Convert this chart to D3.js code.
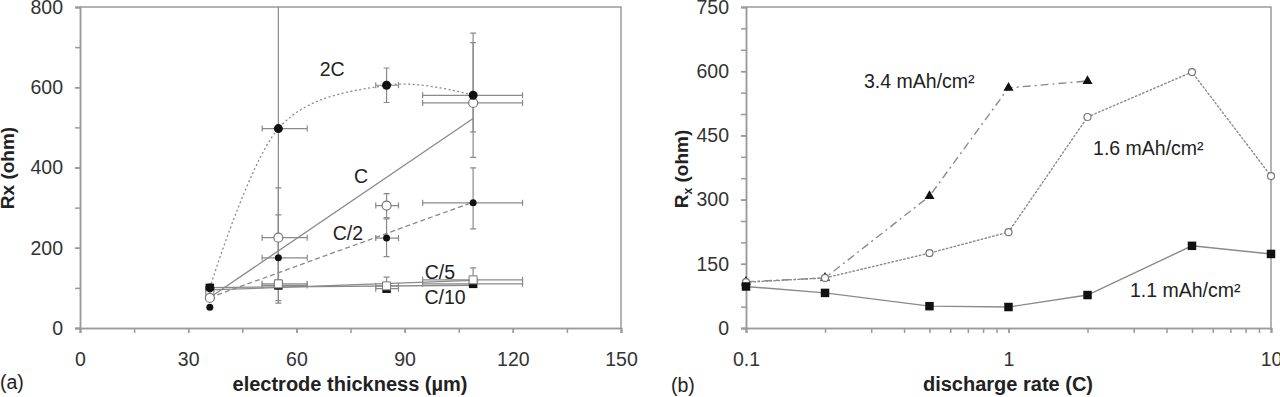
<!DOCTYPE html>
<html>
<head>
<meta charset="utf-8">
<script src="https://cdn.jsdelivr.net/npm/d3@7"></script>
<style>
  body { margin: 0; background: #fff; }
  svg { display: block; font-family: "Liberation Sans", Arial, sans-serif; }
  .tick text { font-size: 19.5px; fill: #333; }
</style>
</head>
<body>
<svg id="chart" width="1280" height="397"></svg>
<script>
// ---- panel (a): Rx vs electrode thickness ----
const thickness = [36, 55, 85, 109];
const thickErrLo = [0, 4.5, 3, 14];
const thickErrHi = [0, 8, 3.3, 13.7];

const rx2C  = [100, 497, 605, 580];
const rxC   = [75, 225, 305, 561];
const rxC2  = [52, 175, 224, 312];
const rxC5  = [90, 110, 105, 120];
const rxC10 = [100, 106, 98, 110];

const err2CLo  = [0, 435, 43, 155];
const err2CHi  = [0, 435, 43, 155];
const errCLo   = [0, 124, 30, 72];
const errCHi   = [0, 124, 30, 150];
const errC2Lo  = [0, 107, 46, 65];
const errC2Hi  = [0, 107, 48, 87];
const errC5Lo  = [0, 10, 8, 10];
const errC5Hi  = [0, 10, 22, 30];
const errC10Lo = [0, 8, 5, 8];
const errC10Hi = [0, 8, 5, 8];

const thickTicks = [0, 30, 60, 90, 120, 150];
const rxTicksA = [0, 200, 400, 600, 800];

// ---- panel (b): Rx vs discharge rate ----
const rates = [0.1, 0.2, 0.5, 1, 2, 5, 10];
const rx11 = [97, 82, 51, 49, 77, 192, 173];
const rx16 = [107, 117, 175, 224, 493, 598, 355];
const rx34 = [108, 117, 308, 561, 577];

const rateTicks = [0.1, 1, 10];
const rxTicksB = [0, 150, 300, 450, 600, 750];

const svg = d3.select('#chart');
const GRID = '#9a9a9a', LINE = '#8a8a8a', INK = '#111', TXT = '#222';
const FS = 19.5;

function frame(x, y, xTicks, xMinor, yTicks, yMinor, xFmt) {
  const [x0, x1] = x.range(), [y0, y1] = y.range();
  const g = svg.append('g');
  g.append('g').attr('transform', 'translate(0,' + y0 + ')')
    .call(d3.axisBottom(x).tickValues(xMinor).tickSize(5).tickFormat(''));
  g.append('g').attr('transform', 'translate(0,' + y0 + ')')
    .call(d3.axisBottom(x).tickValues(xTicks).tickSize(5).tickPadding(19).tickFormat(xFmt));
  g.append('g').attr('transform', 'translate(' + x0 + ',0)')
    .call(d3.axisLeft(y).tickValues(yMinor).tickSize(5).tickFormat(''));
  g.append('g').attr('transform', 'translate(' + x0 + ',0)')
    .call(d3.axisLeft(y).tickValues(yTicks).tickSize(5).tickPadding(12));
  g.selectAll('.domain, .tick line').attr('stroke', GRID).attr('stroke-width', 1.5);
  g.append('path').attr('d', 'M' + x0 + ',' + y1 + 'H' + x1 + 'V' + y0)
    .attr('fill', 'none').attr('stroke', GRID).attr('stroke-width', 1.5);
}

// ---------- panel (a) ----------
const xa = d3.scaleLinear().domain([0, 150]).range([80, 621]);
const ya = d3.scaleLinear().domain([0, 800]).range([328, 7]);
frame(xa, ya, thickTicks, d3.range(0, 151, 15), rxTicksA, d3.range(0, 801, 100), d3.format('d'));

svg.append('clipPath').attr('id', 'clipA').append('rect')
  .attr('x', 80).attr('y', 7).attr('width', 541).attr('height', 321);
const pa = svg.append('g').attr('clip-path', 'url(#clipA)');

const seriesA = [
  { key: '2C',   y: rx2C,  lo: err2CLo,  hi: err2CHi,  fit: false, dash: '2,2.5', mark: 'dot' },
  { key: 'C',    y: rxC,   lo: errCLo,   hi: errCHi,   fit: true,  dash: null,    mark: 'open' },
  { key: 'C/2',  y: rxC2,  lo: errC2Lo,  hi: errC2Hi,  fit: true,  dash: '5,3',   mark: 'small' },
  { key: 'C/5',  y: rxC5,  lo: errC5Lo,  hi: errC5Hi,  fit: true,  dash: null,    mark: 'opensq' },
  { key: 'C/10', y: rxC10, lo: errC10Lo, hi: errC10Hi, fit: true,  dash: null,    mark: 'square' }
];

function linearFit(xs, ys) {
  const mx = d3.mean(xs), my = d3.mean(ys);
  const sxy = d3.sum(xs, (v, i) => (v - mx) * (ys[i] - my));
  const sxx = d3.sum(xs, v => (v - mx) * (v - mx));
  const b = sxy / sxx;
  return v => my + b * (v - mx);
}

// trend lines / smoothed curve
seriesA.forEach(s => {
  let pts;
  if (s.fit) {
    const f = linearFit(thickness, s.y);
    pts = d3.extent(thickness).map(v => [v, f(v)]);
  } else {
    pts = thickness.map((v, i) => [v, s.y[i]]);
  }
  pa.append('path')
    .attr('d', d3.line().x(d => xa(d[0])).y(d => ya(d[1]))
      .curve(s.fit ? d3.curveLinear : d3.curveCardinal.tension(0))(pts))
    .attr('fill', 'none').attr('stroke', LINE).attr('stroke-width', 1.3)
    .attr('stroke-dasharray', s.dash);
});

// error bars
const cap = 3;
seriesA.forEach(s => {
  thickness.forEach((t, i) => {
    const cx = xa(t), cy = ya(s.y[i]);
    if (s.lo[i] || s.hi[i]) {
      const yt = ya(s.y[i] + s.hi[i]), yb = ya(s.y[i] - s.lo[i]);
      pa.append('path')
        .attr('d', `M${cx},${yt}V${yb}M${cx - cap},${yt}H${cx + cap}M${cx - cap},${yb}H${cx + cap}`)
        .attr('stroke', LINE).attr('stroke-width', 1.2).attr('fill', 'none');
    }
    if (thickErrLo[i] || thickErrHi[i]) {
      const xl = xa(t - thickErrLo[i]), xr = xa(t + thickErrHi[i]);
      pa.append('path')
        .attr('d', `M${xl},${cy}H${xr}M${xl},${cy - cap}V${cy + cap}M${xr},${cy - cap}V${cy + cap}`)
        .attr('stroke', LINE).attr('stroke-width', 1.2).attr('fill', 'none');
    }
  });
});

// markers
function marker(g, kind, cx, cy) {
  if (kind === 'dot') g.append('circle').attr('cx', cx).attr('cy', cy).attr('r', 4.5).attr('fill', INK);
  if (kind === 'small') g.append('circle').attr('cx', cx).attr('cy', cy).attr('r', 3.5).attr('fill', INK);
  if (kind === 'open') g.append('circle').attr('cx', cx).attr('cy', cy).attr('r', 4.5)
    .attr('fill', '#fff').attr('stroke', '#777').attr('stroke-width', 1.2);
  if (kind === 'openring') g.append('circle').attr('cx', cx).attr('cy', cy).attr('r', 3.5)
    .attr('fill', '#fff').attr('stroke', '#777').attr('stroke-width', 1.2);
  if (kind === 'square') g.append('path').attr('transform', `translate(${cx},${cy})`)
    .attr('d', d3.symbol(d3.symbolSquare, 72)()).attr('fill', INK);
  if (kind === 'opensq') g.append('path').attr('transform', `translate(${cx},${cy})`)
    .attr('d', d3.symbol(d3.symbolSquare, 64)()).attr('fill', '#fff').attr('stroke', '#777');
  if (kind === 'tri') g.append('path').attr('transform', `translate(${cx},${cy})`)
    .attr('d', d3.symbol(d3.symbolTriangle, 44)()).attr('fill', INK);
}
seriesA.slice().reverse().forEach(s => {
  thickness.forEach((t, i) => marker(pa, s.mark, xa(t), ya(s.y[i])));
});

const labelsA = [
  { text: '2C', x: 69.9, y: 646 },
  { text: 'C', x: 77.9, y: 379 },
  { text: 'C/2', x: 74.3, y: 237 },
  { text: 'C/5', x: 99.8, y: 140 },
  { text: 'C/10', x: 101.2, y: 77 }
];
svg.append('g').selectAll('text').data(labelsA).join('text')
  .attr('x', d => xa(d.x)).attr('y', d => ya(d.y)).attr('dy', '0.36em')
  .attr('text-anchor', 'middle').attr('font-size', FS).attr('fill', TXT)
  .text(d => d.text);

// ---------- panel (b) ----------
const xb = d3.scaleLog().domain([0.1, 10]).range([746, 1271]);
const yb = d3.scaleLinear().domain([0, 750]).range([328, 7]);
frame(xb, yb, rateTicks, xb.ticks(), rxTicksB, d3.range(0, 751, 50), d3.format('~g'));

const pb = svg.append('g');
const seriesB = [
  { y: rx34, dash: '8,4,2,4', mark: 'tri' },
  { y: rx16, dash: '1.5,2.5', mark: 'openring' },
  { y: rx11, dash: null, mark: 'square' }
];
seriesB.forEach(s => {
  pb.append('path')
    .attr('d', d3.line().x((d, i) => xb(rates[i])).y(d => yb(d))(s.y))
    .attr('fill', 'none').attr('stroke', LINE).attr('stroke-width', 1.4)
    .attr('stroke-linecap', s.dash === '1.5,2.5' ? 'round' : 'butt')
    .attr('stroke-dasharray', s.dash);
});
seriesB.forEach(s => s.y.forEach((v, i) => marker(pb, s.mark, xb(rates[i]), yb(v))));

const labelsB = [
  { text: '3.4 mAh/cm²', x: 0.2816, y: 577 },
  { text: '1.6 mAh/cm²', x: 2.10, y: 420 },
  { text: '1.1 mAh/cm²', x: 2.90, y: 89 }
];
svg.append('g').selectAll('text').data(labelsB).join('text')
  .attr('x', d => xb(d.x)).attr('y', d => yb(d.y)).attr('dy', '0.36em')
  .attr('font-size', FS).attr('fill', TXT)
  .text(d => d.text);

// ---------- titles ----------
svg.append('text').attr('transform', 'translate(14,168) rotate(-90)')
  .attr('text-anchor', 'middle').attr('font-size', 19).attr('font-weight', 'bold').attr('fill', TXT)
  .text('Rx (ohm)');
const rb = svg.append('text').attr('transform', 'translate(688,169) rotate(-90)')
  .attr('text-anchor', 'middle').attr('font-size', 19).attr('font-weight', 'bold').attr('fill', TXT);
rb.append('tspan').text('R');
rb.append('tspan').attr('font-size', 12).attr('dy', 4).text('x');
rb.append('tspan').attr('dy', -4).text(' (ohm)');

svg.append('text').attr('x', 350).attr('y', 391).attr('text-anchor', 'middle')
  .attr('font-size', 20).attr('font-weight', 'bold').attr('fill', TXT)
  .text('electrode thickness (µm)');
svg.append('text').attr('x', 1008).attr('y', 391).attr('text-anchor', 'middle')
  .attr('font-size', 20).attr('font-weight', 'bold').attr('fill', TXT)
  .text('discharge rate (C)');
svg.append('text').attr('x', 0).attr('y', 389).attr('font-size', FS).attr('fill', TXT).text('(a)');
svg.append('text').attr('x', 671).attr('y', 392).attr('font-size', FS).attr('fill', TXT).text('(b)');
</script>
</body>
</html>
